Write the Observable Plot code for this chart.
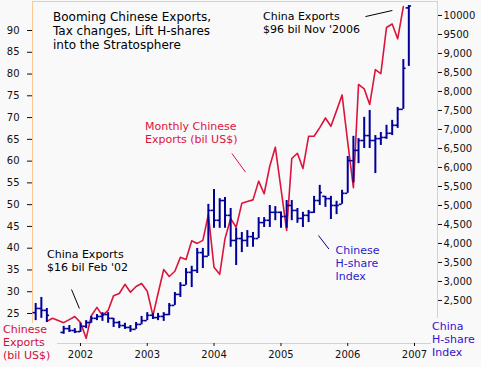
<!DOCTYPE html>
<html><head><meta charset="utf-8">
<script src="https://cdn.jsdelivr.net/npm/d3@7"></script>
<script src="https://cdn.jsdelivr.net/npm/@observablehq/plot@0.6"></script>
<style>
html,body{margin:0;padding:0;background:#f9f9f9;}
#wrap{position:relative;width:481px;height:367px;overflow:hidden;font-family:"DejaVu Sans",Verdana,sans-serif;}
#wrap svg{position:absolute;left:0;top:0;}
.lbl{position:absolute;font-size:11px;line-height:13px;white-space:nowrap;}
</style></head><body><div id="wrap"></div>
<script>
// ---- Data ----
// Monthly Chinese exports (bil US$), Jul 2001 .. Nov 2006
const exportStart = "2001-07";
const exportValues = [
  23.2, 23.9, 23.4, 22.9, 23.6, 24.3,
  22.9, 19.3, 24.5, 26.4, 24.5, 25.7, 29.1, 29.6, 31.7, 29.9, 31.2, 31.9,
  30.1, 24.5, 29.6, 35.1, 33.5, 34.7, 37.9, 37.4, 41.7, 41.1, 41.8, 47.7,
  35.6, 34.0, 42.2, 46.8, 44.8, 50.3, 50.7, 51.1, 55.4, 52.5, 58.9, 63.2,
  53.7, 44.1, 60.6, 61.8, 58.3, 65.7, 65.7, 67.7, 69.9, 68.0, 71.6, 75.2,
  64.3, 53.9, 77.6, 76.6, 73.0, 81.0, 80.1, 90.7, 91.5, 88.1, 95.5
];
// Chinese H-share index, monthly OHLC
const hsMonths = ["2001-05","2001-06","2001-07",
  "2001-10","2001-11","2001-12",
  "2002-01","2002-02","2002-03","2002-04","2002-05","2002-06","2002-07","2002-08","2002-09","2002-10","2002-11","2002-12",
  "2003-01","2003-02","2003-03","2003-04","2003-05","2003-06","2003-07","2003-08","2003-09","2003-10","2003-11","2003-12",
  "2004-01","2004-02","2004-03","2004-04","2004-05","2004-06","2004-07","2004-08","2004-09","2004-10","2004-11","2004-12",
  "2005-01","2005-02","2005-03","2005-04","2005-05","2005-06","2005-07","2005-08","2005-09","2005-10","2005-11","2005-12",
  "2006-01","2006-02","2006-03","2006-04","2006-05","2006-06","2006-07","2006-08","2006-09","2006-10","2006-11","2006-12"];
const hsOpen = [2180,2290,2240, 1660,1760,1710,
  1680,1820,1920,2030,2080,2130,2030,1920,1840,1790,1740,1870,
  1970,2110,2050,2080,2130,2370,2660,2900,3240,3290,3760,3660,
  4870,4610,5130,4740,4080,4130,4080,4180,4130,4550,4610,4820,
  4820,4710,5000,4870,4660,4740,4820,5130,5240,5180,5000,5030,
  5320,6180,6450,6710,6840,6710,6760,6790,6900,7110,7530,10200];
const hsHigh = [2420,2580,2290, 1820,1840,1760,
  1900,1970,2080,2130,2180,2180,2030,1950,1900,1840,1920,2080,
  2180,2160,2160,2180,2420,2710,2970,3340,3400,3870,3870,5030,
  5420,5180,5210,4920,4400,4290,4340,4290,4680,4680,5000,4970,
  4830,5130,5130,4920,4820,4870,5240,5530,5240,5240,5110,5400,
  6290,6820,6760,7320,7500,6840,6920,7110,7240,7580,8840,10260];
const hsLow = [1970,2030,1920, 1610,1660,1630,
  1660,1760,1900,1970,1950,1900,1790,1760,1740,1660,1740,1860,
  1970,2000,1970,1950,2100,2370,2580,2900,2840,3210,3340,3660,
  4400,4400,4400,3900,3420,3760,3900,3900,4130,4420,4420,4600,
  4400,4400,4600,4530,4420,4550,4790,5000,4950,4630,4760,5030,
  5320,5600,6100,6500,6500,5840,6580,6740,6840,7030,7530,8660];
const hsClose = [2290,2240,2110, 1760,1710,1680,
  1820,1920,2030,2080,2130,2030,1920,1840,1790,1740,1870,1970,
  2110,2050,2080,2130,2370,2660,2900,3240,3290,3760,3660,4870,
  4610,5130,4740,4080,4130,4080,4180,4130,4550,4610,4820,4820,
  4710,5000,4870,4660,4740,4820,5130,5340,5180,5000,5000,5320,
  6180,6450,6710,6840,6710,6760,6790,6900,7110,7530,8610,10250];
// axis ticks
const leftTicks = [25,30,35,40,45,50,55,60,65,70,75,80,85,90];
const rightTicks = [2500,3000,3500,4000,4500,5000,5500,6000,6500,7000,7500,8000,8500,9000,9500,10000];
const yearTicks = ["2002","2003","2004","2005","2006","2007"];
// callout connectors
const exportCallouts = [
  {x1:"2001-11-13", y1:30.5, x2:"2001-12-26", y2:26.15, color:"#000"},
  {x1:"2004-04-08", y1:61.75, x2:"2004-06-21", y2:57.46, color:"#dc143c"},
  {x1:"2006-04-08", y1:93.2, x2:"2006-09-02", y2:94.6, color:"#000"}
];
const hsCallouts = [{x1:"2005-07-25", y1:4210, x2:"2005-09-20", y2:3855, color:"#000080"}];

// ---- Build tables ----
const pm = d3.utcParse("%Y-%m");
const pd = d3.utcParse("%Y-%m-%d");
const py = d3.utcParse("%Y");
const exports = exportValues.map((v,i) => ({date: d3.utcMonth.offset(pm(exportStart), i), value: v}));
const hs = hsMonths.map((m,i) => ({date: pm(m), open: hsOpen[i], high: hsHigh[i], low: hsLow[i], close: hsClose[i]}));
const tickLen = 15; // days
hs.forEach(d => { d.left = d3.utcDay.offset(d.date, -tickLen); d.right = d3.utcDay.offset(d.date, tickLen); });
const exC = exportCallouts.map(c => ({...c, x1: pd(c.x1), x2: pd(c.x2)}));
const hsC = hsCallouts.map(c => ({...c, x1: pd(c.x1), x2: pd(c.x2)}));

// ---- Layout ----
const W = 481, H = 367, mL = 32, mR = 44, mT = 1, mB = 24;
const t0 = Date.UTC(2002,0,1), t1 = Date.UTC(2007,0,1);
const msPerPx = (t1 - t0) / 334;
const xDomain = [new Date(t0 - 48*msPerPx), new Date(t1 + 23*msPerPx)];
const common = {
  width: W, height: H, marginLeft: mL, marginRight: mR, marginTop: mT, marginBottom: mB,
  style: {background: "transparent", fontFamily: "DejaVu Sans, Verdana, sans-serif", fontSize: "10px", color: "#111"}
};

const left = Plot.plot({
  ...common,
  x: {type: "utc", domain: xDomain},
  y: {domain: [18.11, 96.66]},
  marks: [
    Plot.frame({stroke: "#fdc896"}),
    Plot.axisY({ticks: leftTicks, tickSize: 5, tickPadding: 8, label: null}),
    Plot.axisX({ticks: yearTicks.map(py), tickSize: 3, tickPadding: 4, tickFormat: d3.utcFormat("%Y"), label: null}),
    Plot.line(exports, {x: "date", y: "value", stroke: "#dc143c", strokeWidth: 1.6}),
    Plot.link(exC, {x1: "x1", y1: "y1", x2: "x2", y2: "y2", stroke: d => d.color, strokeWidth: 1})
  ]
});

const right = Plot.plot({
  ...common,
  x: {type: "utc", domain: xDomain, axis: null},
  y: {domain: [1368, 10368]},
  marks: [
    Plot.axisY({anchor: "right", ticks: rightTicks, tickSize: 4, tickPadding: 2, label: null,
      tickFormat: d => d >= 9500 ? String(d) : d3.format(",")(d)}),
    Plot.ruleX(hs, {x: "date", y1: "low", y2: "high", stroke: "#000099", strokeWidth: 2}),
    Plot.ruleY(hs, {x1: "left", x2: "date", y: "open", stroke: "#000099", strokeWidth: 1.6}),
    Plot.ruleY(hs, {x1: "date", x2: "right", y: "close", stroke: "#000099", strokeWidth: 1.6}),
    Plot.link(hsC, {x1: "x1", y1: "y1", x2: "x2", y2: "y2", stroke: d => d.color, strokeWidth: 1})
  ]
});

const wrap = document.getElementById("wrap");
wrap.appendChild(left);
wrap.appendChild(right);

function label(html, css) {
  const d = document.createElement("div");
  d.className = "lbl";
  d.innerHTML = html;
  Object.assign(d.style, css);
  wrap.appendChild(d);
}
label("Booming Chinese Exports,<br>Tax changes, Lift H-shares<br>into the Stratosphere",
  {left: "53px", top: "9.5px", fontSize: "12px", lineHeight: "14px", color: "#000"});
label("China Exports<br>$96 bil Nov '2006", {left: "263px", top: "9.5px", lineHeight: "13.3px", color: "#000"});
label("Monthly Chinese<br>Exports (bil US$)", {left: "145px", top: "119.5px", lineHeight: "13.5px", color: "#dc143c"});
label("China Exports<br>$16 bil Feb '02", {left: "47px", top: "247.5px", color: "#000"});
label("Chinese<br>H-share<br>Index", {left: "335.5px", top: "243.5px", color: "#2a1ccc"});
label("Chinese<br>Exports<br>(bil US$)", {left: "0px", top: "322.5px", paddingLeft: "3px", width: "54px", height: "45px",
  background: "#f9f9f9", color: "#d0103a"});
label("China<br>H-share<br>Index", {left: "431px", top: "318px", paddingLeft: "1px", paddingTop: "2px", width: "49px", height: "49px",
  lineHeight: "13.2px", background: "#f9f9f9", color: "#3a10cc"});
</script></body></html>
